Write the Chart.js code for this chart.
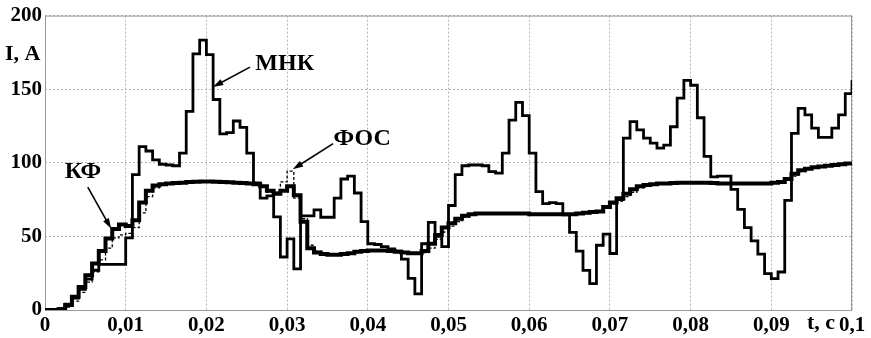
<!DOCTYPE html>
<html>
<head>
<meta charset="utf-8">
<script src="https://cdn.jsdelivr.net/npm/chart.js@4.4.1/dist/chart.umd.min.js"></script>
<style>
  html, body { margin: 0; padding: 0; background: #fff; }
  #wrap { width: 871px; height: 338px; }
</style>
</head>
<body>
<div id="wrap"><canvas id="chart" width="871" height="338"></canvas></div>
<script>
// sample period of the step curves, s
const dt = 1 / 1200;

// МНК (least squares) estimate, A, one value per sample
const mnk = [
    0, 0, 1, 4, 8, 14, 21, 27, 31, 31,
    31, 31, 49, 92, 111, 108, 102, 99, 98.5, 98,
    106.6, 135, 174, 183.4, 173.5, 143, 119.6, 120.5, 128.4, 124,
    106.6, 86.4, 76, 77.5, 63.3, 36, 48.3, 28, 64, 64,
    68, 63, 63, 76, 89, 91, 79.5, 60, 45, 44.5,
    43, 41.5, 40, 34.5, 21.5, 11, 45, 59.5, 50, 43,
    71, 92, 98, 98.5, 98.5, 98, 94, 93, 106.6, 129,
    141, 132, 106.6, 80.4, 72.3, 73, 72.3, 64.6, 52.7, 40,
    26.9, 17.9, 44, 51.6, 38.4, 75, 116.7, 128, 122.4, 116.7,
    113.4, 110, 112, 124.5, 144, 156, 152.7, 130.6, 104.4, 90.4,
    91, 91, 82, 68.4, 56, 47, 38, 24.7, 21.3, 25.8,
    74.5, 120, 137, 132.5, 123.5, 117.3, 117.3, 123.5, 132.5, 147,
    156
];

// КФ (Kalman filter) estimate, A
const kf = [
    0, 0, 0.5, 3.4, 9, 15.7, 23.6, 31.6, 40, 48.5,
    55, 58, 57, 61, 73, 81, 84.5, 85.5, 86, 86.3,
    86.5, 87, 87.2, 87.3, 87.3, 87.2, 87, 86.8, 86.5, 86.2,
    86, 85.5, 84, 81, 79, 81, 84, 78, 60, 42,
    39, 38, 37.5, 37.5, 38, 38.5, 39.5, 40, 40.5, 40.5,
    40.5, 40, 39.5, 39, 38.5, 38.5, 40, 45, 51, 56,
    59, 62, 64, 65, 65.5, 65.5, 65.5, 65.5, 65.5, 65.5,
    65.5, 65.5, 65, 65, 65, 65, 65, 65, 65, 65.5,
    66, 66.5, 67, 70, 73, 76, 79, 82, 84, 85,
    85.5, 86, 86, 86.3, 86.5, 86.5, 86.5, 86.5, 86.5, 86.3,
    86, 86, 86, 86, 86, 86, 86, 86, 86.5, 87,
    89, 92.5, 95, 96, 97, 97.5, 98, 98.5, 99, 99.5,
    100
];

// ФОС estimate, A
const fos = [
    0, 0, 0, 2, 6, 12, 19, 26, 34, 42,
    49, 51, 52, 56, 66, 77, 83, 85, 86, 86.3,
    86.5, 87, 87.2, 87.3, 87.3, 87.2, 87, 86.8, 86.5, 86.2,
    86, 85.5, 84.5, 80, 80, 87, 94.3, 76, 62, 44,
    40, 38, 37.5, 37.5, 38, 38.5, 39.5, 40, 40.5, 40.5,
    40.5, 40, 39.5, 39, 38.5, 38.5, 39, 42, 48, 53,
    57, 60, 63, 64.5, 65.5, 65.5, 65.5, 65.5, 65.5, 65.5,
    65.5, 65.5, 65, 65, 65, 65, 65, 65, 65, 65.5,
    65.5, 66, 66.5, 69, 72, 74, 77, 80, 83, 84.5,
    85.5, 86, 86, 86.3, 86.5, 86.5, 86.5, 86.5, 86.5, 86.3,
    86, 86, 86, 86, 86, 86, 86, 86, 86, 86.5,
    88, 91, 94, 95.5, 96.5, 97.5, 98, 98.5, 99, 99.5,
    100
];

const xTicks = [0, 0.01, 0.02, 0.03, 0.04, 0.05, 0.06, 0.07, 0.08, 0.09, 0.1];
const yTicks = [0, 50, 100, 150, 200];

// curve labels with arrows: text centre, arrow tail and head in data units
const callouts = [
    { text: 'МНК', tx: 0.0297, ty: 167, from: [0.0254, 165], to: [0.0208, 151.5] },
    { text: 'КФ', tx: 0.0047, ty: 93.6, from: [0.0053, 83.5], to: [0.0082, 55.2] },
    { text: 'ФОС', tx: 0.0393, ty: 116.5, from: [0.0357, 113], to: [0.0307, 95.6] }
];

const FONT = '"Liberation Serif", "Times New Roman", serif';

const toPoints = vals => vals.map((v, i) => ({ x: i * dt, y: v }));
const fmtTick = v => String(Math.round(v * 100) / 100).replace('.', ',');

const framePlugin = {
    id: 'frame',
    beforeDatasetsDraw(chart) {
        const { ctx, chartArea: a } = chart;
        ctx.save();
        ctx.strokeStyle = '#9a9a9a';
        ctx.lineWidth = 1;
        ctx.strokeRect(a.left + 0.5, a.top + 0.5, a.right - a.left - 1, a.bottom - a.top);
        ctx.restore();
    }
};

const calloutPlugin = {
    id: 'callouts',
    afterDraw(chart) {
        const { ctx, scales: { x, y }, chartArea: a } = chart;
        ctx.save();
        ctx.fillStyle = '#000';
        ctx.strokeStyle = '#000';
        ctx.font = 'bold 24px ' + FONT;
        ctx.textAlign = 'center';
        ctx.textBaseline = 'middle';
        for (const c of callouts) {
            ctx.fillText(c.text, x.getPixelForValue(c.tx), y.getPixelForValue(c.ty));
            const x1 = x.getPixelForValue(c.from[0]), y1 = y.getPixelForValue(c.from[1]);
            const x2 = x.getPixelForValue(c.to[0]), y2 = y.getPixelForValue(c.to[1]);
            const ang = Math.atan2(y2 - y1, x2 - x1);
            ctx.lineWidth = 1.6;
            ctx.beginPath();
            ctx.moveTo(x1, y1);
            ctx.lineTo(x2 - 8 * Math.cos(ang), y2 - 8 * Math.sin(ang));
            ctx.stroke();
            ctx.beginPath();
            ctx.moveTo(x2, y2);
            ctx.lineTo(x2 - 11 * Math.cos(ang - 0.3), y2 - 11 * Math.sin(ang - 0.3));
            ctx.lineTo(x2 - 11 * Math.cos(ang + 0.3), y2 - 11 * Math.sin(ang + 0.3));
            ctx.closePath();
            ctx.fill();
        }
        // axis names
        ctx.font = 'bold 22px ' + FONT;
        ctx.textAlign = 'left';
        ctx.fillText('I, A', 5, a.top + 39);
        ctx.fillText('t, c', 807, a.bottom + 13);
        ctx.restore();
    }
};

const line = (label, vals, width, dash) => ({
    label,
    data: toPoints(vals),
    borderColor: '#000',
    borderWidth: width,
    borderDash: dash,
    stepped: true,
    pointRadius: 0,
    fill: false
});

new Chart(document.getElementById('chart'), {
    type: 'line',
    data: {
        datasets: [
            line('МНК', mnk, 2.8, []),
            line('КФ', kf, 4, []),
            line('ФОС', fos, 1.3, [3, 2])
        ]
    },
    options: {
        responsive: false,
        animation: false,
        layout: { padding: { left: 0, right: 19, top: 13, bottom: 0 } },
        plugins: { legend: { display: false }, tooltip: { enabled: false } },
        scales: {
            x: {
                type: 'linear',
                min: 0,
                max: 0.1,
                afterBuildTicks: s => { s.ticks = xTicks.map(v => ({ value: v })); },
                afterFit: s => { s.height = 28; },
                ticks: {
                    callback: fmtTick,
                    color: '#000',
                    padding: 3,
                    maxRotation: 0,
                    autoSkip: false,
                    font: { family: FONT, size: 21, weight: 'bold' }
                },
                grid: { color: '#b5b5b5', lineWidth: 1, drawTicks: false },
                border: { display: false, dash: [2, 2] }
            },
            y: {
                min: 0,
                max: 200,
                afterBuildTicks: s => { s.ticks = yTicks.map(v => ({ value: v })); },
                afterFit: s => { s.width = 45; },
                ticks: {
                    color: '#000',
                    padding: 3,
                    font: { family: FONT, size: 21, weight: 'bold' }
                },
                grid: { color: '#b5b5b5', lineWidth: 1, drawTicks: false },
                border: { display: false, dash: [2, 2] }
            }
        }
    },
    plugins: [framePlugin, calloutPlugin]
});
</script>
</body>
</html>
